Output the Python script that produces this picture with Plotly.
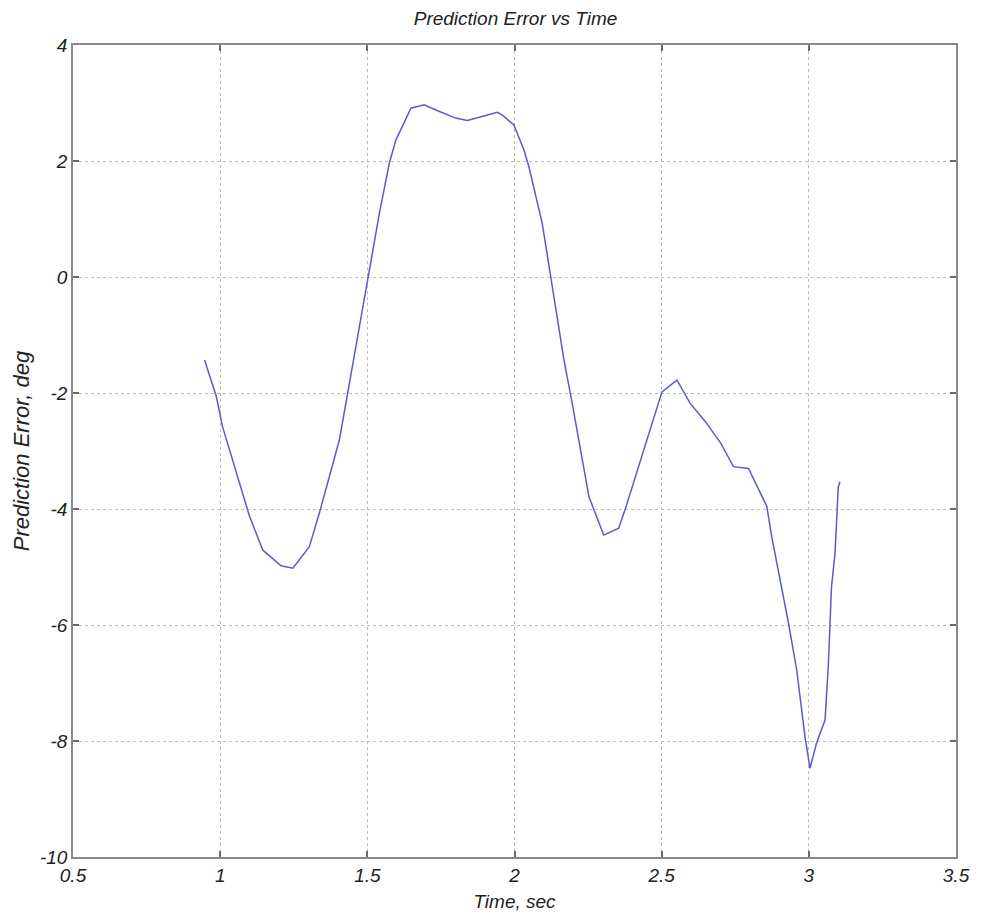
import plotly.graph_objects as go

time_sec = [0.947, 0.987, 1.008, 1.100, 1.145, 1.207, 1.247, 1.303, 1.337, 1.405,
            1.450, 1.500, 1.541, 1.575, 1.597, 1.648, 1.693, 1.733, 1.800, 1.840,
            1.902, 1.942, 1.959, 1.998, 2.032, 2.049, 2.094, 2.123, 2.168, 2.196,
            2.253, 2.303, 2.354, 2.377, 2.440, 2.501, 2.552, 2.597, 2.648, 2.700,
            2.744, 2.795, 2.857, 2.874, 2.931, 2.959, 2.987, 2.998, 3.004, 3.026,
            3.055, 3.066, 3.077, 3.089, 3.094, 3.100, 3.106]
error_deg = [-1.43, -2.06, -2.58, -4.13, -4.71, -4.98, -5.02, -4.65, -4.07, -2.81,
             -1.52, -0.09, 1.10, 1.97, 2.36, 2.91, 2.97, 2.88, 2.74, 2.70,
             2.79, 2.84, 2.79, 2.62, 2.19, 1.90, 0.93, 0.00, -1.43, -2.18,
             -3.79, -4.45, -4.33, -3.99, -2.95, -1.98, -1.78, -2.18, -2.49, -2.86,
             -3.27, -3.30, -3.95, -4.48, -5.97, -6.78, -7.93, -8.33, -8.47, -8.04,
             -7.64, -6.72, -5.34, -4.76, -4.25, -3.62, -3.53]

x_ticks = [0.5, 1, 1.5, 2, 2.5, 3, 3.5]
x_tick_text = ["0.5", "1", "1.5", "2", "2.5", "3", "3.5"]
y_ticks = [-10, -8, -6, -4, -2, 0, 2, 4]
y_tick_text = ["-10", "-8", "-6", "-4", "-2", "0", "2", "4"]

FONT = "Liberation Sans, Arial, sans-serif"

fig = go.Figure()
fig.add_trace(go.Scatter(x=time_sec, y=error_deg, mode="lines",
                         line=dict(color="rgb(90,90,210)", width=1.5),
                         showlegend=False))

axis_common = dict(
    showline=True, linecolor="#8a8a8a", linewidth=1.5, mirror="ticks",
    ticks="inside", ticklen=6, tickcolor="#6a6a6a", tickwidth=1.5,
    showgrid=True, gridcolor="#bcbcbc", griddash="dot", gridwidth=1,
    zeroline=False,
    tickfont=dict(family=FONT, size=19, color="#222222", style="italic"),
)

fig.update_xaxes(range=[0.5, 3.5], tickvals=x_ticks, ticktext=x_tick_text,
                 title=dict(text="Time, sec", standoff=10,
                            font=dict(family=FONT, size=19, color="#222222", style="italic")),
                 **axis_common)
fig.update_yaxes(range=[-10, 4], tickvals=y_ticks, ticktext=y_tick_text,
                 title=dict(text="Prediction Error, deg", standoff=4,
                            font=dict(family=FONT, size=22, color="#222222", style="italic")),
                 **axis_common)

fig.update_layout(
    width=982, height=923,
    margin=dict(l=73, r=24, t=45, b=66, pad=0),
    plot_bgcolor="white", paper_bgcolor="white",
    title=dict(text="Prediction Error vs Time", x=0.525, xanchor="center",
               y=0.98, yanchor="middle",
               font=dict(family=FONT, size=19, color="#222222", style="italic")),
)

fig.write_html("out.html")
